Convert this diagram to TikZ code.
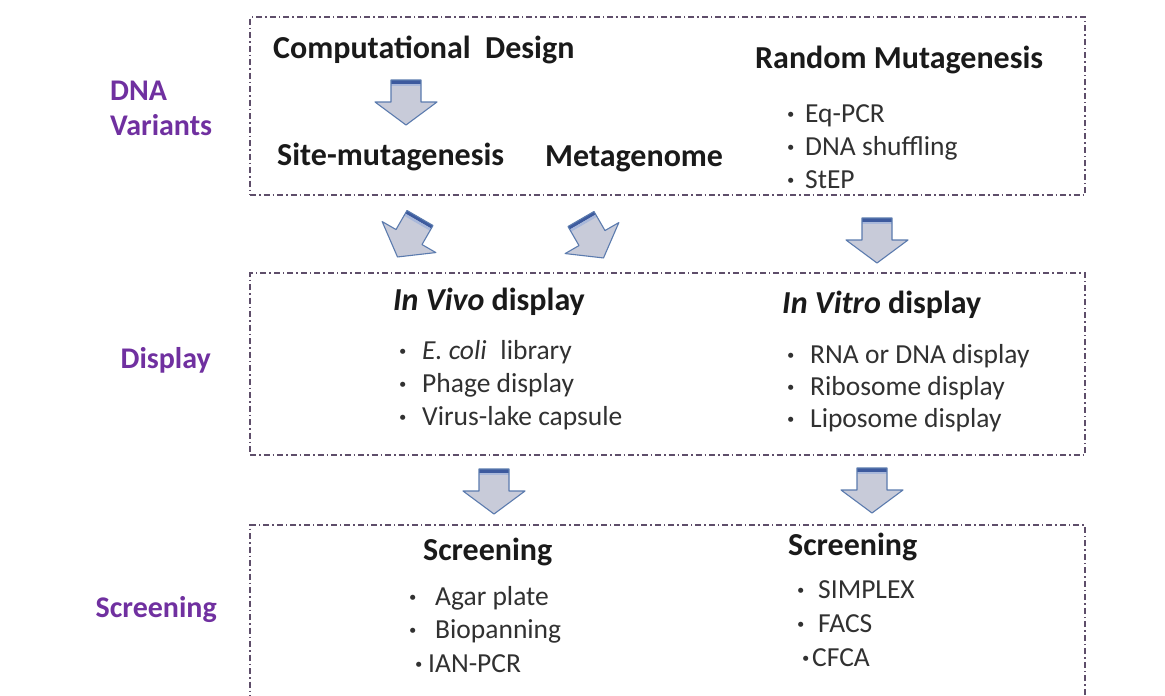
\documentclass[tikz,border=0pt]{standalone}
\usepackage{fontspec}
\setmainfont{Carlito}
\definecolor{lblpurple}{HTML}{7030A0}
\definecolor{bordc}{HTML}{5E4E6A}
\definecolor{arrfill}{HTML}{C8CBD9}
\definecolor{arrline}{HTML}{5B7BAE}
\definecolor{banddark}{HTML}{3D5A9E}
\definecolor{bandlight}{HTML}{A9B8DA}
\definecolor{txt}{HTML}{1A1A1A}
\newcommand{\bul}[2]{\makebox[#1pt][l]{\textbf{·}}#2}
\begin{document}
\begin{tikzpicture}[x=1pt,y=-1pt,
  panel/.style={draw=bordc, line width=1.1pt, dash pattern=on 6pt off 3pt on 1.5pt off 3pt, inner sep=0pt, fill=none},
  head/.style={anchor=base west, inner sep=0pt, text=txt, font=\fontsize{32}{38}\selectfont\bfseries},
  item/.style={anchor=base west, inner sep=0pt, text=txt!90, font=\fontsize{27.5}{32}\selectfont},
  lbl/.style={anchor=base west, inner sep=0pt, text=lblpurple, font=\fontsize{30}{34}\selectfont\bfseries},
  blockarrow/.pic={
    \fill[arrfill] (-15,0) -- (15,0) -- (15,22) -- (31,22) -- (0,45) -- (-31,22) -- (-15,22) -- cycle;
    \fill[banddark] (-15,0) rectangle (15,3.5);
    \fill[bandlight] (-15,3.5) rectangle (15,6);
    \draw[arrline, line width=1.1pt, line join=round] (-15,0) -- (15,0) -- (15,22) -- (31,22) -- (0,45) -- (-31,22) -- (-15,22) -- cycle;
  }
]
\useasboundingbox[fill=white] (0,0) rectangle (1165,696);

% panels
\node[panel, minimum width=835pt, minimum height=178pt] (box1) at (667.5,106) {};
\node[panel, minimum width=835pt, minimum height=182pt] (box2) at (667.5,364) {};
\node[panel, minimum width=835pt, minimum height=185pt] (box3) at (667.5,617.5) {};

% left labels
\node[lbl] (lDNA) at (110,100) {DNA};
\node[lbl] (lVar) at (110,135) {Variants};
\node[lbl, anchor=base east] (lDisp) at (211,368) {Display};
\node[lbl, anchor=base east] (lScr) at (217,617) {Screening};

% box 1
\node[head] (comp) at (273,58) {Computational\hspace{0.45em}Design};
\node[head] (site) at (277,165) {Site-mutagenesis};
\node[head] (meta) at (545,166) {Metagenome};
\node[head] (rand) at (755,68) {Random Mutagenesis};
\node[item] (eq) at (787,122) {\bul{18}{Eq-PCR}};
\node[item] (shuf) at (787,155) {\bul{18}{DNA shuffling}};
\node[item] (step) at (787,188) {\bul{18}{StEP}};

% box 2
\node[head] (invivo) at (393,310) {\textit{In Vivo} display};
\node[item] (ecoli) at (399,359) {\bul{23}{\textit{E. coli}\hspace{0.5em}library}};
\node[item] (phage) at (399,392) {\bul{23}{Phage display}};
\node[item] (virus) at (399,425) {\bul{23}{Virus-lake capsule}};
\node[head] (invitro) at (782,313) {\textit{In Vitro} display};
\node[item] (rna) at (787,363) {\bul{23}{RNA or DNA display}};
\node[item] (ribo) at (787,395) {\bul{23}{Ribosome display}};
\node[item] (lipo) at (787,427) {\bul{23}{Liposome display}};

% box 3
\node[head] (scrL) at (423,560) {Screening};
\node[item] (agar) at (409,605) {\bul{26}{Agar plate}};
\node[item] (bio) at (409,638) {\bul{26}{Biopanning}};
\node[item] (ian) at (415,672) {\bul{13}{IAN-PCR}};
\node[head] (scrR) at (788,555) {Screening};
\node[item] (simp) at (797,598) {\bul{21}{SIMPLEX}};
\node[item] (facs) at (797,632) {\bul{21}{FACS}};
\node[item] (cfca) at (802,666) {\bul{10}{CFCA}};

% block arrows
\pic (aComp) at (406,80) {blockarrow};
\pic[rotate=-30] (aSite) at (420,218) {blockarrow};
\pic[rotate=30] (aMeta) at (581,219) {blockarrow};
\pic (aRand) at (877,218) {blockarrow};
\pic (aVivo) at (494,469) {blockarrow};
\pic (aVitro) at (872,468) {blockarrow};
\end{tikzpicture}
\end{document}
